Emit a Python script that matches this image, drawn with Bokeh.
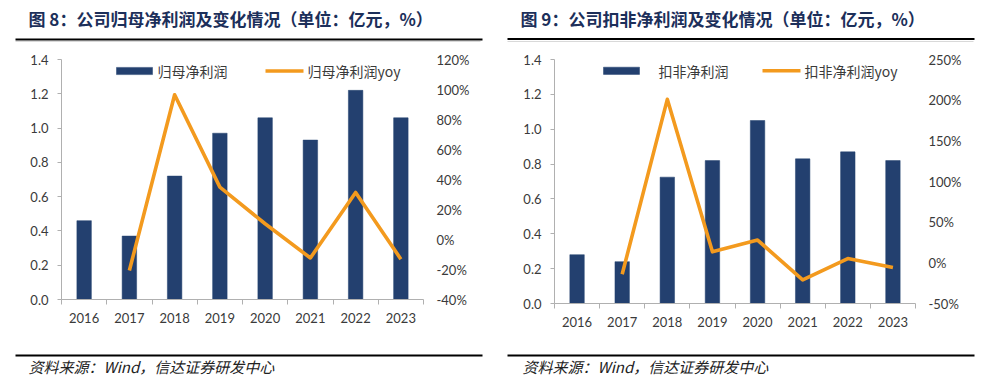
import numpy as np
from bokeh.plotting import figure
from bokeh.models import Range1d, LinearAxis, FixedTicker, PrintfTickFormatter
from bokeh.layouts import column, row
from bokeh.core.properties import value
from bokeh.embed import file_html
from bokeh.resources import INLINE

# ---------------- data ----------------
years = ["2016", "2017", "2018", "2019", "2020", "2021", "2022", "2023"]
np_parent = [0.46, 0.37, 0.72, 0.97, 1.06, 0.93, 1.22, 1.06]           # 归母净利润 (亿元)
np_parent_yoy = [np.nan, -20.7, 96.5, 34.9, 10.5, -12.3, 31.4, -13.1]   # %
np_deduct = [0.28, 0.24, 0.725, 0.82, 1.05, 0.83, 0.87, 0.82]          # 扣非净利润 (亿元)
np_deduct_yoy = [np.nan, -14.0, 201.0, 13.5, 28.0, -21.0, 5.3, -5.7]   # %

left_ticks = [0.0, 0.2, 0.4, 0.6, 0.8, 1.0, 1.2, 1.4]
left_yoy_ticks = [-40, -20, 0, 20, 40, 60, 80, 100, 120]
right_ticks = [0.0, 0.2, 0.4, 0.6, 0.8, 1.0, 1.2, 1.4]
right_yoy_ticks = [-50, 0, 50, 100, 150, 200, 250]

title_left = "图 8：公司归母净利润及变化情况（单位：亿元，%）"
title_right = "图 9：公司扣非净利润及变化情况（单位：亿元，%）"
legend_left = ["归母净利润", "归母净利润yoy"]
legend_right = ["扣非净利润", "扣非净利润yoy"]
source_text = "资料来源：Wind，信达证券研发中心"

# ---------------- styles ----------------
NAVY = "#23406f"
ORANGE = "#f39a1e"
AXIS_GRAY = "#b0b0b0"
TXT = "#3a3a3a"
TITLE_C = "#1c2f5a"
CJK = "Noto Sans CJK SC"
NUMF = "Lato"

PAGE_W = 998
off = 0  # page origin offset relative to reference pixel coordinates


def deco_fig(h):
    p = figure(width=PAGE_W, height=h, x_range=Range1d(0, PAGE_W), y_range=Range1d(h, 0),
               x_axis_type=None, y_axis_type=None, output_backend="svg",
               toolbar_location=None, min_border=0)
    p.grid.visible = False
    p.outline_line_color = None
    return p


# ---------------- header ----------------
HDR_H = 44
hdr = deco_fig(HDR_H)
hdr.text(x=[28 - off, 520 - off], y=[18 - off, 18 - off], text=[title_left, title_right],
         text_font=value(CJK), text_font_style="bold", text_font_size="17px",
         text_color=TITLE_C, text_baseline="middle", text_align="left")
hdr.segment(x0=[15 - off, 507 - off], x1=[482 - off, 974 - off], y0=[39 - off, 38.5 - off],
            y1=[39 - off, 38.5 - off], line_color="black", line_width=2.2)
hdr.segment(x0=[15 - off, 507 - off], x1=[480 - off, 973 - off], y0=[41 - off, 41 - off],
            y1=[41 - off, 41 - off], line_color="#d9d9d9", line_width=1)


# ---------------- charts ----------------
def make_chart(bars, yoy, ymax, lticks, yoy_range, yoy_ticks, legend, geom):
    (fl, ft, fw, fh, br, bb, leg) = geom
    n = len(years)
    xs = [i + 0.5 for i in range(n)]
    p = figure(frame_width=fw, frame_height=fh, min_border_left=fl, min_border_right=br,
               min_border_top=ft, min_border_bottom=bb,
               x_range=Range1d(0, n), y_range=Range1d(0, ymax),
               output_backend="svg", toolbar_location=None)
    p.grid.visible = False
    p.outline_line_color = None
    p.extra_y_ranges = {"yoy": Range1d(*yoy_range)}

    p.vbar(x=xs, top=bars, width=0.32, bottom=0, fill_color=NAVY, line_color=NAVY,
           line_width=0.5)
    p.line(x=xs, y=yoy, y_range_name="yoy", line_color=ORANGE, line_width=3.6,
           line_join="round")

    # x axis
    xa = p.xaxis[0]
    xa.ticker = FixedTicker(ticks=xs, minor_ticks=list(range(n + 1)))
    xa.major_label_overrides = {x: y for x, y in zip(xs, years)}
    xa.major_tick_out = 0
    xa.major_tick_in = 0
    xa.minor_tick_out = 5
    xa.minor_tick_in = 0
    xa.minor_tick_line_color = AXIS_GRAY
    xa.axis_line_color = AXIS_GRAY
    xa.major_label_standoff = 8
    xa.major_label_text_font = NUMF
    xa.major_label_text_font_size = "13px"
    xa.major_label_text_color = TXT

    # left y axis
    ya = p.yaxis[0]
    ya.ticker = FixedTicker(ticks=lticks, minor_ticks=[])
    ya.major_label_overrides = {t: f"{t:.1f}" for t in lticks}
    ya.axis_line_color = AXIS_GRAY
    ya.major_tick_line_color = AXIS_GRAY
    ya.major_tick_out = 4
    ya.major_tick_in = 0
    ya.minor_tick_out = 0
    ya.minor_tick_in = 0
    ya.major_label_standoff = 9
    ya.major_label_text_font = NUMF
    ya.major_label_text_font_size = "13px"
    ya.major_label_text_color = TXT

    # right y axis
    ra = LinearAxis(y_range_name="yoy", ticker=FixedTicker(ticks=yoy_ticks, minor_ticks=[]),
                    formatter=PrintfTickFormatter(format="%d%%"))
    ra.axis_line_color = None
    ra.major_tick_line_color = None
    ra.major_tick_out = 0
    ra.major_tick_in = 0
    ra.minor_tick_out = 0
    ra.minor_tick_in = 0
    ra.major_label_standoff = 13
    ra.major_label_text_font = NUMF
    ra.major_label_text_font_size = "13px"
    ra.major_label_text_color = TXT
    p.add_layout(ra, "right")

    # legend (drawn in frame, positions in pixels of the reference page)
    ref_fl, ref_ft = leg["frame_ref"]

    def dx(px):
        return (px - ref_fl) / fw * n

    def dy(py):
        return (ref_ft + fh - py) / fh * ymax

    r0, r1, ry, t1x, l0, l1, ly, t2x = leg["pos"]
    p.quad(left=[dx(r0)], right=[dx(r1)], top=[dy(ry - 3.6)], bottom=[dy(ry + 3.6)],
           fill_color=NAVY, line_color=NAVY, line_width=0.5)
    p.segment(x0=[dx(l0)], x1=[dx(l1)], y0=[dy(ly)], y1=[dy(ly)], line_color=ORANGE,
              line_width=3.6)
    p.text(x=[dx(t1x), dx(t2x)], y=[dy(ry), dy(ly)], text=legend,
           text_font=value(CJK), text_font_size="14px", text_color=TXT,
           text_baseline="middle", text_align="left")
    return p


chart_l = make_chart(np_parent, np_parent_yoy, 1.4, left_ticks, (-40, 120), left_yoy_ticks,
                     legend_left,
                     (61, 15, 362, 240, 80, 46,
                      {"frame_ref": (61, 59), "pos": (116, 152, 70.5, 157, 265, 303, 70.5, 307)}))
chart_r = make_chart(np_deduct, np_deduct_yoy, 1.4, right_ticks, (-50, 250), right_yoy_ticks,
                     legend_right,
                     (51, 13, 361, 244, 83, 44,
                      {"frame_ref": (554, 57), "pos": (603, 639, 68.3, 658, 762, 800, 68.3, 804)}))

# ---------------- footer ----------------
FT_H = 31
ftr = deco_fig(FT_H)
foff = HDR_H + 301
ftr.segment(x0=[15, 507], x1=[482, 974], y0=[355 - foff, 355 - foff],
            y1=[355 - foff, 355 - foff], line_color="black", line_width=2.2)
ftr.text(x=[28, 522], y=[365.5 - foff, 365.5 - foff], text=[source_text, source_text],
         text_font=value(CJK), text_font_style="italic", text_font_size="15px",
         text_color="#222222", text_baseline="middle", text_align="left")

layout = column(hdr, row(chart_l, chart_r), ftr)

open("out.html", "w").write(file_html(layout, INLINE))
